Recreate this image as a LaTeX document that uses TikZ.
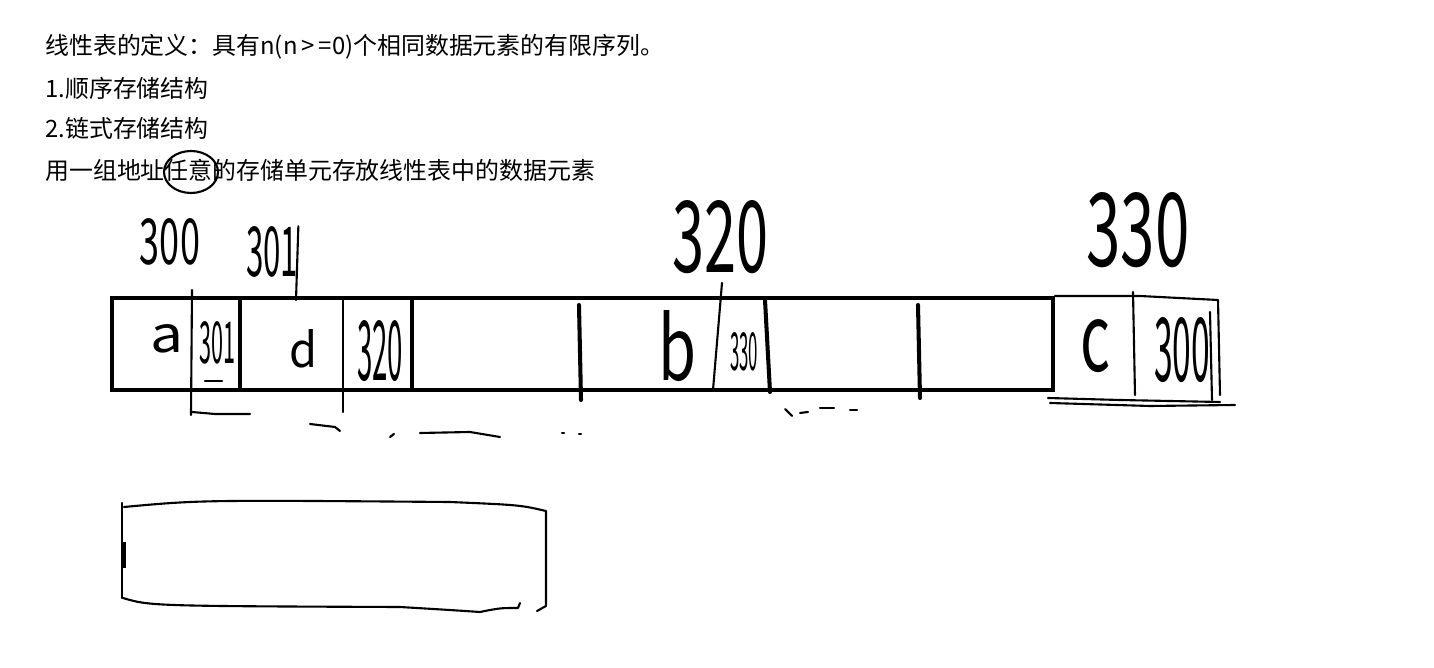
\documentclass[tikz,border=0pt]{standalone}
\usepackage{fontspec}
\usepackage{graphicx}
\setmainfont{Noto Sans CJK SC}
\usetikzlibrary{positioning}
\newlength\pxu
\setlength\pxu{0.02cm}
\newcommand{\hand}[3]{\resizebox{#1\pxu}{#2\pxu}{#3}}

\begin{document}
\begin{tikzpicture}[x=0.02cm, y=-0.02cm,
  txt/.style={anchor=west, inner sep=0pt, font=\fontsize{13.6}{16}\selectfont},
  hw/.style={inner sep=0pt},
  heavy/.style={line width=2.3pt, line cap=round},
  pen/.style={line width=1.2pt, line cap=round, line join=round}]
  \useasboundingbox (0,0) rectangle (1434,668);

  % typed notes
  \node[txt] (def) at (45,47)  {线性表的定义：具有n(n\,>\,=0)个相同数据元素的有限序列。};
  \node[txt] (seq) at (45,88)  {1.顺序存储结构};
  \node[txt] (lnk) at (45,128) {2.链式存储结构};
  \node[txt] (use) at (45,170) {用一组地址任意的存储单元存放线性表中的数据元素};
  \draw[pen] (191,172) ellipse (27 and 21);

  % addresses
  \node[hw] (n300) at (170,242)  {\hand{60}{46}{300}};
  \node[hw] (n301) at (272,252)  {\hand{52}{50}{301}};
  \node[hw] (n320) at (720,237)  {\hand{96}{72}{320}};
  \node[hw] (n330) at (1138,230) {\hand{103}{74}{330}};
  \coordinate (top301) at (296,300);
  \draw[pen] (n301.north east) -- (top301);

  % memory strip
  \draw[heavy] (112,298) rectangle (1053,390);
  \foreach \x in {240,412}
    \draw[heavy] (\x,298) -- (\x,390);
  \draw[heavy] (579,305) -- (581,400);
  \draw[heavy] (765,300) -- (770,392);
  \draw[heavy] (918,305) -- (920,398);
  \draw[pen] (192,290) -- (191,415);
  \draw[pen] (343,298) -- (343,412);
  \draw[pen] (722,283) -- (713,390);

  % node c, drawn by hand
  \draw[pen] (1055,296) -- (1140,296) -- (1218,300) -- (1220,395);
  \draw[pen] (1133,292) -- (1135,395);
  \draw[pen] (1210,312) -- (1212,400);
  \draw[pen] (1048,398) -- (1120,400) -- (1220,402);
  \draw[pen] (1050,403) -- (1150,406) -- (1235,405);

  % cell contents
  \node[hw] (a)   at (167,339)  {\hand{33}{28}{a}};
  \node[hw] (pa)  at (217,343)  {\hand{36}{42}{301}};
  \node[hw] (d)   at (303,349)  {\hand{28}{38}{d}};
  \node[hw] (pd)  at (380,351)  {\hand{46}{60}{320}};
  \node[hw] (b)   at (677,346)  {\hand{38}{70}{b}};
  \node[hw] (pb)  at (744,352)  {\hand{28}{38}{330}};
  \node[hw] (c)   at (1095,346) {\hand{30}{52}{c}};
  \node[hw] (pc)  at (1182,350) {\hand{56}{64}{300}};

  % scribbles under the strip
  \draw[pen] (205,381) -- (222,381);
  \draw[pen] (192,412) -- (215,414) -- (250,414);
  \draw[pen] (310,424) -- (335,427) -- (340,431);
  \draw[pen] (390,437) -- (394,434);
  \draw[pen] (420,433) -- (470,432) -- (500,437);
  \draw[pen] (562,433) -- (564,433);
  \draw[pen] (579,434) -- (581,434);
  \draw[pen] (785,409) -- (792,416);
  \draw[pen] (800,413) -- (808,412);
  \draw[pen] (820,408) -- (834,408);
  \draw[pen] (850,410) -- (857,410);

  % empty box
  \draw[pen] (122,503) -- (122,598);
  \draw[line width=2.2pt] (124,542) -- (124,568);
  \draw[pen] (124,507) .. controls (200,500) .. (450,502) .. controls (520,505) .. (546,511)
    -- (546,606) -- (537,611);
  \draw[pen] (123,598) .. controls (150,606) .. (400,607) .. controls (450,610) .. (480,612)
    .. controls (500,608) .. (518,608) -- (520,603);
\end{tikzpicture}
\end{document}
